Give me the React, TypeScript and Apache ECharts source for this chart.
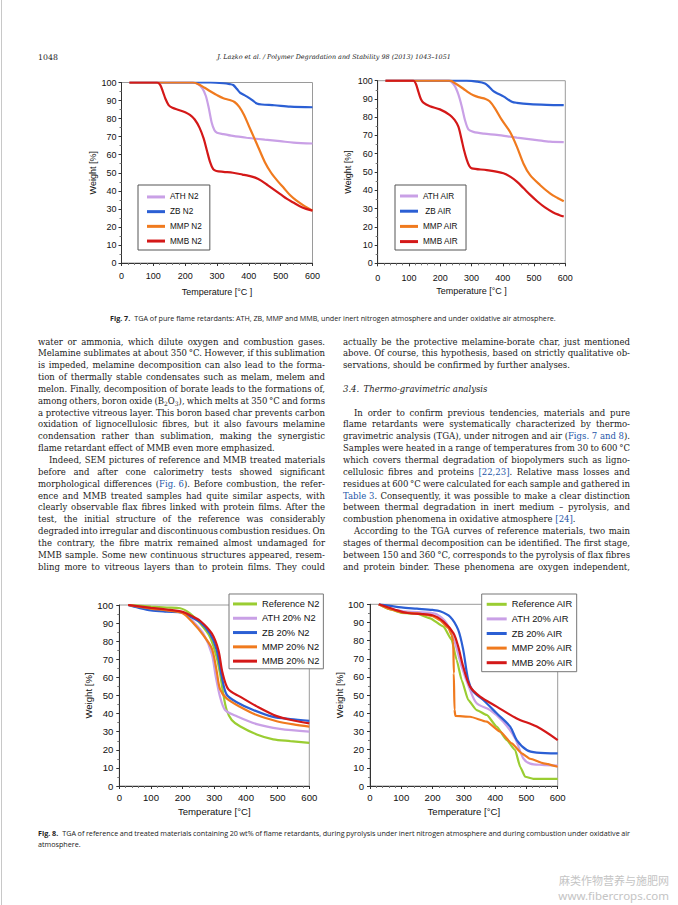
import React, { useEffect, useRef } from "react";
import * as echarts from "echarts";

// ---------- colours ----------
const C_REF = "#9acd32";
const C_ATH = "#c9a0e6";
const C_ZB = "#2b5fd4";
const C_MMP = "#f07a1e";
const C_MMB = "#d41818";

// ---------- Fig. 7 (pure flame retardants) : [temperature °C, weight %] ----------
const ATH_N2 = [[25,100],[222,100],[240,99.2],[255,96.5],[265,92.5],[274,86],[283,78],[292,73.5],[300,72.2],[320,71.4],[350,70.4],[393,69.4],[450,68.3],[498,67.5],[540,66.7],[600,66.2]];
const ZB_N2 = [[25,100],[280,100],[320,99.6],[340,99.1],[351,98.6],[362,96.5],[372,94.4],[390,92.6],[404,91.1],[425,88.4],[441,87.8],[480,87.4],[530,86.6],[600,86.3]];
const MMP_N2 = [[25,100],[225,100],[240,99.2],[260,97.2],[280,95],[300,93],[320,91.3],[340,90.3],[355,89.2],[370,86.5],[385,82],[400,76],[415,70],[430,64],[450,56],[470,50],[490,45.5],[510,41.5],[530,37.5],[550,34.5],[575,31.5],[600,29]];
const MMB_N2 = [[25,100],[112,100],[122,98.5],[130,95],[138,91],[148,87.5],[160,86],[180,84.8],[200,83.5],[215,82],[230,79.5],[245,75],[258,69],[268,62.5],[278,56],[288,52],[298,51],[320,50.5],[350,50],[380,49],[400,48.3],[420,47.3],[440,45.5],[460,43],[480,40.5],[500,38],[520,35.5],[540,33.5],[560,31.5],[580,30],[600,29]];

const ATH_AIR = [[25,100],[226,100],[245,97.5],[258,92.5],[269,85.8],[279,78.5],[290,73.4],[306,72],[340,71],[381,70.3],[445,68.8],[509,67.5],[551,66.6],[595,66.4]];
const ZB_AIR = [[25,100],[285,100],[317,99.5],[343,98.5],[357,96.5],[370,94.3],[386,92.8],[402,91.4],[429,88.5],[445,87.9],[487,87.2],[540,86.8],[595,86.6]];
const MMP_AIR = [[25,100],[231,100],[250,98.3],[274,95.6],[290,93.6],[306,92],[322,91],[345,90],[358,88.7],[375,84.9],[397,78.5],[423,72],[445,63.9],[466,54.7],[487,48.4],[519,42.9],[551,38.3],[575,35.8],[595,34]];
const MMB_AIR = [[25,100],[114,100],[122,98.3],[130,94],[138,90],[146,88],[167,86],[199,84.3],[231,81.2],[246,78.5],[258,74.8],[268,68],[276,62],[285,56.6],[293,53.3],[301,52],[349,51],[402,49.3],[425,47.3],[445,44.7],[466,41.2],[487,37.6],[510,34],[535,30.6],[560,28],[580,26.5],[595,25.6]];

// ---------- Fig. 8 (treated materials, 20 wt%) ----------
const REF_N2 = [[28,100],[100,99.1],[150,98.6],[192,98.2],[223,95.4],[255,89.9],[286,82.5],[307,71.5],[318,62.2],[328,51.2],[339,42],[355,36.5],[381,33],[434,28.5],[486,25.8],[540,24.8],[600,23.8]];
const ATH20_N2 = [[28,100],[60,98.8],[100,97.3],[150,96.6],[200,96],[234,90.8],[265,84.3],[292,73],[305,60],[318,49.4],[334,42],[371,38.5],[434,34.2],[507,31.6],[600,30]];
const ZB20_N2 = [[28,100],[60,98.5],[100,97],[150,96.3],[200,95.8],[225,93.5],[255,90.5],[286,84.3],[307,75.5],[323,61],[339,50.5],[371,46.3],[423,42],[486,38.2],[540,37],[600,36]];
const MMP20_N2 = [[28,100],[100,98],[150,97],[200,95.5],[234,89.9],[265,83.4],[292,76],[307,64],[318,53.5],[339,48.4],[381,43.8],[434,39.2],[497,35.8],[550,34],[600,32.8]];
const MMB20_N2 = [[28,100],[100,98.4],[150,97.5],[200,96.2],[228,94],[255,91.3],[292,84.3],[313,75],[326,62.5],[344,53.5],[381,49.4],[434,44],[497,38.6],[550,36.2],[600,34.6]];

const REF_AIR = [[28,100],[60,97.5],[100,95.3],[150,94.8],[192,92.3],[235,87.7],[261,80.4],[277,69.4],[293,58.3],[314,47.3],[341,41.8],[373,39.1],[405,32.7],[437,25.3],[464,19.8],[480,10.6],[496,5.1],[522,3.9],[600,3.9]];
const ATH20_AIR = [[28,100],[80,97],[120,96],[180,95.5],[213,94.5],[245,89.5],[272,78.5],[293,65.7],[320,52.8],[341,45.5],[384,41.8],[426,35.4],[464,26.2],[490,15.2],[512,12.3],[550,11.6],[600,11.2]];
const ZB20_AIR = [[28,100],[60,99.3],[100,98.3],[150,97.6],[200,96.9],[224,96.2],[256,93.2],[282,85.9],[298,74.9],[314,58.3],[330,51.9],[362,47.3],[405,40],[448,32.7],[469,25.3],[501,19.8],[533,18.4],[600,18]];
const MMP20_AIR = [[28,100],[70,97],[100,95.6],[150,95],[200,93.5],[224,91.2],[251,86.8],[261,83.1],[266,79.5],[268,62],[270,42],[273,38.6],[320,38.1],[373,35.4],[416,29.9],[453,23.5],[485,18],[512,15],[555,12.5],[600,10.6]];
const MMB20_AIR = [[28,100],[80,97],[120,95.2],[200,94],[235,90.5],[267,84],[282,76.7],[298,65.7],[320,54.7],[352,49.2],[405,43.7],[469,37.2],[533,32.7],[600,25.3]];

// ---------- axis tick labels ----------
const X_MIN = 0, X_MAX = 600, X_STEP = 100;
const Y_MIN = 0, Y_MAX = 100, Y_STEP = 10;

// ---------- page texts ----------
const HEADER_PAGE = "1048";
const HEADER_TITLE = "J. Lazko et al. / Polymer Degradation and Stability 98 (2013) 1043\u20131051";
const CAPTION7_BOLD = "Fig. 7.";
const CAPTION7 = "TGA of pure flame retardants: ATH, ZB, MMP and MMB, under inert nitrogen atmosphere and under oxidative air atmosphere.";
const CAPTION8_BOLD = "Fig. 8.";
const CAPTION8_L1 = "TGA of reference and treated materials containing 20 wt% of flame retardants, during pyrolysis under inert nitrogen atmosphere and during combustion under oxidative air";
const CAPTION8_L2 = "atmosphere.";
const WATERMARK_1 = "麻类作物营养与施肥网";
const WATERMARK_2 = "www.fibercrops.com";

// "\t" = indent, trailing "|" = paragraph end, "#" = heading, ^..^ = blue, ~..~ = subscript
const LEFT_LINES = [
  "water or ammonia, which dilute oxygen and combustion gases.",
  "Melamine sublimates at about 350\u2009°C. However, if this sublimation",
  "is impeded, melamine decomposition can also lead to the forma-",
  "tion of thermally stable condensates such as melam, melem and",
  "melon. Finally, decomposition of borate leads to the formations of,",
  "among others, boron oxide (B~2~O~3~), which melts at 350\u2009°C and forms",
  "a protective vitreous layer. This boron based char prevents carbon",
  "oxidation of lignocellulosic fibres, but it also favours melamine",
  "condensation rather than sublimation, making the synergistic",
  "flame retardant effect of MMB even more emphasized.|",
  "\tIndeed, SEM pictures of reference and MMB treated materials",
  "before and after cone calorimetry tests showed significant",
  "morphological differences (^Fig.\u00a06^). Before combustion, the refer-",
  "ence and MMB treated samples had quite similar aspects, with",
  "clearly observable flax fibres linked with protein films. After the",
  "test, the initial structure of the reference was considerably",
  "degraded into irregular and discontinuous combustion residues. On",
  "the contrary, the fibre matrix remained almost undamaged for",
  "MMB sample. Some new continuous structures appeared, resem-",
  "bling more to vitreous layers than to protein films. They could",
];
const RIGHT_LINES = [
  "actually be the protective melamine-borate char, just mentioned",
  "above. Of course, this hypothesis, based on strictly qualitative ob-",
  "servations, should be confirmed by further analyses.|",
  "",
  "#3.4.\u2002Thermo-gravimetric analysis",
  "",
  "\tIn order to confirm previous tendencies, materials and pure",
  "flame retardants were systematically characterized by thermo-",
  "gravimetric analysis (TGA), under nitrogen and air (^Figs.\u00a07 and 8^).",
  "Samples were heated in a range of temperatures from 30 to 600\u2009°C",
  "which covers thermal degradation of biopolymers such as ligno-",
  "cellulosic fibres and proteins ^[22,23]^. Relative mass losses and",
  "residues at 600\u2009°C were calculated for each sample and gathered in",
  "^Table\u00a03^. Consequently, it was possible to make a clear distinction",
  "between thermal degradation in inert medium \u2013 pyrolysis, and",
  "combustion phenomena in oxidative atmosphere ^[24]^.|",
  "\tAccording to the TGA curves of reference materials, two main",
  "stages of thermal decomposition can be identified. The first stage,",
  "between 150 and 360\u2009°C, corresponds to the pyrolysis of flax fibres",
  "and protein binder. These phenomena are oxygen independent,",
];

const SANS = "Liberation Sans";
const SERIF = "DejaVu Serif";
const CAP_FONT = "Open Sans";

type Piece = { t: string; blue: boolean; sub: boolean };

function parseWords(line: string): Piece[][] {
  const words: Piece[][] = [];
  let cur: Piece[] = [];
  let blue = false, sub = false, buf = "";
  const flush = () => { if (buf) { cur.push({ t: buf, blue, sub }); buf = ""; } };
  for (const ch of line) {
    if (ch === "^") { flush(); blue = !blue; }
    else if (ch === "~") { flush(); sub = !sub; }
    else if (ch === " ") { flush(); if (cur.length) words.push(cur); cur = []; }
    else buf += ch;
  }
  flush();
  if (cur.length) words.push(cur);
  return words;
}

export default function App() {
  const ref = useRef<HTMLDivElement>(null);

  useEffect(() => {
    if (!ref.current) return;
    const chart = echarts.init(ref.current, undefined, { renderer: "svg" });

    const ctx = document.createElement("canvas").getContext("2d")!;
    const mw = (t: string, size: number, family: string, weight = "normal", style = "normal") => {
      ctx.font = `${style} ${weight} ${size}px "${family}"`;
      return ctx.measureText(t).width;
    };

    const els: any[] = [];
    const txt = (text: string, x: number, y: number, o: any = {}) => {
      els.push({
        type: "text", x, y, silent: true, z: 100,
        style: {
          text, fontSize: o.size ?? 10, fontFamily: o.family ?? SERIF, fontWeight: o.weight ?? "normal",
          fontStyle: o.style ?? "normal", fill: o.fill ?? "#1a1a1a", align: o.align ?? "left", verticalAlign: "middle",
          lineHeight: o.lh,
        },
      });
    };

    // ----- body text -----
    const COL_W = 287;
    const LEFT_X = 38, RIGHT_X = 343;
    const LINE0 = 341.5, LH = 11.85;
    const INDENT = 11;
    const REFS = 10;
    const pieceW = (p: Piece, size: number) => mw(p.t, p.sub ? size * 0.7 : size, SERIF);
    const wordW = (w: Piece[], size: number) => w.reduce((s, p) => s + pieceW(p, size), 0);
    let minRatio = Infinity;
    for (const L of [...LEFT_LINES, ...RIGHT_LINES]) {
      if (!L || L.startsWith("#") || L.endsWith("|")) continue;
      const clean = L.replace(/^\t/, "");
      const words = parseWords(clean);
      const nat = words.reduce((s, w) => s + wordW(w, REFS), 0) + (words.length - 1) * mw(" ", REFS, SERIF);
      const avail = COL_W - (L.startsWith("\t") ? INDENT : 0);
      minRatio = Math.min(minRatio, avail / nat);
    }
    const BODY = REFS * minRatio * 1.025;

    const layoutCol = (lines: string[], x0: number) => {
      lines.forEach((raw, i) => {
        if (!raw) return;
        const y = LINE0 + i * LH;
        if (raw.startsWith("#")) {
          txt(raw.slice(1), x0, y, { size: BODY, style: "italic" });
          return;
        }
        const indent = raw.startsWith("\t");
        const last = raw.endsWith("|");
        const clean = raw.replace(/^\t/, "").replace(/\|$/, "");
        const words = parseWords(clean);
        const start = x0 + (indent ? INDENT : 0);
        const widths = words.map((w) => wordW(w, BODY));
        const total = widths.reduce((a, b) => a + b, 0);
        const sp = mw(" ", BODY, SERIF);
        const gap = !last && words.length > 1 ? (x0 + COL_W - start - total) / (words.length - 1) : sp;
        let x = start;
        words.forEach((w, wi) => {
          let px = x;
          for (const p of w) {
            const s = p.sub ? BODY * 0.7 : BODY;
            txt(p.t, px, p.sub ? y + 2.6 : y, { size: s, fill: p.blue ? "#2456a8" : "#1a1a1a" });
            px += pieceW(p, BODY);
          }
          x += widths[wi] + gap;
        });
      });
    };
    layoutCol(LEFT_LINES, LEFT_X);
    layoutCol(RIGHT_LINES, RIGHT_X);

    // ----- header -----
    txt(HEADER_PAGE, 38, 57, { size: 7.8 });
    const hSize = 10 * 234 / mw(HEADER_TITLE, 10, SERIF, "normal", "italic");
    txt(HEADER_TITLE, 334, 57, { size: hSize, style: "italic", align: "center" });

    // ----- captions -----
    const capGap = 4;
    const c7w = mw(CAPTION7_BOLD, 10, CAP_FONT, "bold") + mw(CAPTION7, 10, CAP_FONT);
    const CAP = 10 * (447 - capGap) / c7w;
    const b7 = mw(CAPTION7_BOLD, CAP, CAP_FONT, "bold");
    txt(CAPTION7_BOLD, 110, 317.5, { size: CAP, family: CAP_FONT, weight: "bold", fill: "#222" });
    txt(CAPTION7, 110 + b7 + capGap, 317.5, { size: CAP, family: CAP_FONT, fill: "#222" });

    const b8 = mw(CAPTION8_BOLD, CAP, CAP_FONT, "bold");
    txt(CAPTION8_BOLD, 38, 833, { size: CAP, family: CAP_FONT, weight: "bold", fill: "#222" });
    const w8 = CAPTION8_L1.split(" ");
    const w8w = w8.map((w) => mw(w, CAP, CAP_FONT));
    const s8 = 38 + b8 + capGap;
    const g8 = (630 - s8 - w8w.reduce((a, b) => a + b, 0)) / (w8.length - 1);
    let x8 = s8;
    w8.forEach((w, i) => { txt(w, x8, 833, { size: CAP, family: CAP_FONT, fill: "#222" }); x8 += w8w[i] + g8; });
    txt(CAPTION8_L2, 38, 843.5, { size: CAP, family: CAP_FONT, fill: "#222" });

    // ----- watermark -----
    const wm1 = Math.min(11, 10 * 114 / mw(WATERMARK_1, 10, "Noto Sans CJK SC"));
    const wm2 = Math.min(11.5, 10 * 114 / mw(WATERMARK_2, 10, "Noto Sans"));
    txt(WATERMARK_1, 669, 880, { size: wm1, family: "Noto Sans CJK SC", fill: "#c4c4c4", align: "right", lh: wm1 });
    txt(WATERMARK_2, 669, 895, { size: wm2, family: "Noto Sans", fill: "#c4c4c4", align: "right", lh: wm2 });

    // page edge line
    els.push({ type: "line", silent: true, shape: { x1: 1.5, y1: 0, x2: 1.5, y2: 905 }, style: { stroke: "#c8c8c8", lineWidth: 1 } });

    // ----- charts -----
    const GRIDS = [
      { left: 121.5, top: 82.5, width: 191, height: 180.5 },
      { left: 377.7, top: 80.7, width: 187.6, height: 182.6 },
      { left: 119.3, top: 605, width: 190, height: 181 },
      { left: 370, top: 604.3, width: 187.7, height: 181.7 },
    ];
    const FS = [9, 9, 9.6, 9.6];
    const X_NAMES = ["Temperature [°C ]", "Temperature [°C ]", "Temperature [°C]", "Temperature [°C]"];
    const X_NAMEGAP = [24, 23, 20.5, 20.5];
    const X_LABELM = [8.5, 10, 6.5, 6.5];
    const Y_NAMEGAP = [23, 25, 24, 22];
    const Y_LABELM = [5, 5, 6, 6];

    const xAxis = GRIDS.map((_, i) => ({
      type: "value", gridIndex: i, min: X_MIN, max: X_MAX, interval: X_STEP,
      name: X_NAMES[i], nameLocation: "middle", nameGap: X_NAMEGAP[i],
      nameTextStyle: { fontSize: FS[i], color: "#111", fontFamily: SANS },
      axisLine: { show: true, onZero: false, lineStyle: { color: "#333", width: 1 } },
      axisTick: { show: true, length: 3, lineStyle: { color: "#333" } },
      minorTick: { show: true, splitNumber: 5, length: 2, lineStyle: { color: "#777" } },
      axisLabel: { fontSize: FS[i], color: "#111", margin: X_LABELM[i], fontFamily: SANS },
      splitLine: { show: false },
    }));
    const yAxis = GRIDS.map((_, i) => ({
      type: "value", gridIndex: i, min: Y_MIN, max: Y_MAX, interval: Y_STEP,
      name: "Weight [%]", nameLocation: "middle", nameGap: Y_NAMEGAP[i],
      nameTextStyle: { fontSize: FS[i], color: "#111", fontFamily: SANS },
      axisLine: { show: true, onZero: false, lineStyle: { color: "#333", width: 1 } },
      axisTick: { show: true, length: 3, lineStyle: { color: "#333" } },
      minorTick: { show: true, splitNumber: 2, length: 2, lineStyle: { color: "#777" } },
      axisLabel: { fontSize: FS[i], color: "#111", margin: Y_LABELM[i], fontFamily: SANS },
      splitLine: { show: false },
    }));

    const line = (name: string, data: number[][], color: string, gi: number, steep = false) => ({
      type: "line", name, data, xAxisIndex: gi, yAxisIndex: gi,
      showSymbol: false, symbol: "none",
      smooth: steep ? 0.15 : 0.3, smoothMonotone: steep ? "x" : undefined,
      lineStyle: { width: 2.2, color }, itemStyle: { color }, z: 2, silent: true,
    });

    const series = [
      line("ATH N2", ATH_N2, C_ATH, 0), line("ZB N2", ZB_N2, C_ZB, 0), line("MMP N2", MMP_N2, C_MMP, 0), line("MMB N2", MMB_N2, C_MMB, 0),
      line("ATH AIR", ATH_AIR, C_ATH, 1), line(" ZB AIR", ZB_AIR, C_ZB, 1), line("MMP AIR", MMP_AIR, C_MMP, 1), line("MMB AIR", MMB_AIR, C_MMB, 1),
      line("Reference N2", REF_N2, C_REF, 2), line("ATH 20% N2", ATH20_N2, C_ATH, 2), line("ZB 20% N2", ZB20_N2, C_ZB, 2), line("MMP 20% N2", MMP20_N2, C_MMP, 2), line("MMB 20% N2", MMB20_N2, C_MMB, 2),
      line("Reference AIR", REF_AIR, C_REF, 3, true), line("ATH 20% AIR", ATH20_AIR, C_ATH, 3), line("ZB 20% AIR", ZB20_AIR, C_ZB, 3), line("MMP 20% AIR", MMP20_AIR, C_MMP, 3, true), line("MMB 20% AIR", MMB20_AIR, C_MMB, 3),
    ];

    const legend = (names: string[], left: number, top: number, iw: number, fs: number, lh: number, pad: number[], border: string) => ({
      data: names, orient: "vertical", left, top, itemWidth: iw, itemHeight: 3, itemGap: 0, icon: "rect",
      padding: pad, backgroundColor: "#fff", borderColor: border, borderWidth: 1, selectedMode: false, z: 10,
      textStyle: { fontSize: fs, lineHeight: lh, color: "#111", fontFamily: SANS },
    });

    chart.setOption({
      animation: false,
      backgroundColor: "#fff",
      grid: GRIDS.map((g) => ({ ...g, show: true, borderColor: "#9a9a9a", borderWidth: 1, backgroundColor: "transparent" })),
      xAxis, yAxis, series,
      legend: [
        legend(["ATH N2", "ZB N2", "MMP N2", "MMB N2"], 138, 185, 18, 8.2, 14.7, [4.6, 8, 1.6, 9], "#555"),
        legend(["ATH AIR", " ZB AIR", "MMP AIR", "MMB AIR"], 395, 185, 18, 8.2, 15.2, [3.4, 8, 0.8, 5], "#555"),
        legend(["Reference N2", "ATH 20% N2", "ZB 20% N2", "MMP 20% N2", "MMB 20% N2"], 229, 594, 24, 9.3, 14.3, [2.8, 4, 0.5, 4], "#777"),
        legend(["Reference AIR", "ATH 20% AIR", "ZB 20% AIR", "MMP 20% AIR", "MMB 20% AIR"], 481.7, 594, 20, 9.3, 14.6, [3, 4, 1.7, 5], "#777"),
      ],
      graphic: { elements: els },
    });

    return () => chart.dispose();
  }, []);

  return <div ref={ref} style={{ position: "absolute", left: 0, top: 0, width: 678, height: 905 }} />;
}
